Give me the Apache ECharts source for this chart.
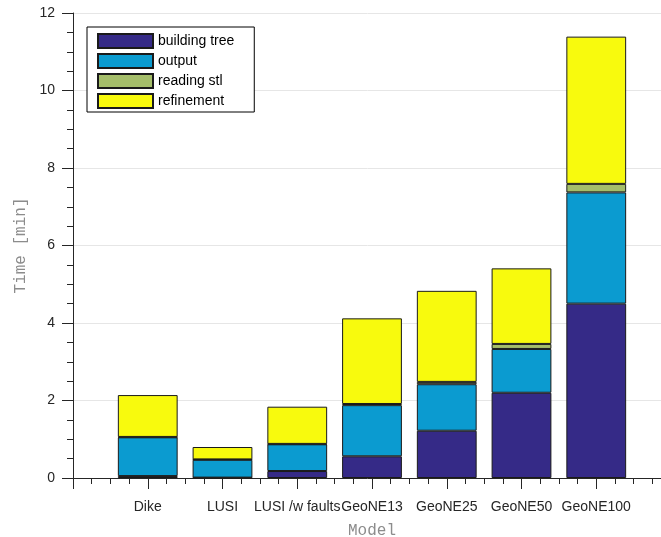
<!DOCTYPE html>
<html>
<head>
<meta charset="utf-8">
<script src="https://cdn.jsdelivr.net/npm/echarts@6/dist/echarts.min.js"></script>
<style>
  html, body { margin: 0; padding: 0; background: #fff; }
  #chart { width: 661px; height: 537px; }
</style>
</head>
<body>
<div id="chart"></div>
<script>
// Model names; the axis runs 0..8 and the models sit on positions 1..7
const models = ['Dike', 'LUSI', 'LUSI /w faults', 'GeoNE13', 'GeoNE25', 'GeoNE50', 'GeoNE100'];

// Time per stage in minutes
const buildingTree = [0.05, 0.01, 0.18, 0.56, 1.22, 2.20, 4.50];
const output       = [1.00, 0.46, 0.69, 1.32, 1.20, 1.13, 2.87];
const readingStl   = [0.01, 0.01, 0.01, 0.03, 0.06, 0.13, 0.22];
const refinement   = [1.08, 0.32, 0.96, 2.21, 2.35, 1.95, 3.80];

const yTicks = [0, 2, 4, 6, 8, 10, 12];

const seriesDefs = [
  { name: 'building tree', values: buildingTree, color: '#352a87' },
  { name: 'output',        values: output,       color: '#0b9bd0' },
  { name: 'reading stl',   values: readingStl,   color: '#a5be6a' },
  { name: 'refinement',    values: refinement,   color: '#f8fa0d' }
];

// Category slots: empty slot at each end so models land on 1..7 of a 0..8 span
const slots = [''].concat(models, ['']);

const W = 661;
const gridLeft = 73, gridRight = -10, gridTop = 13, gridBottom = 59;
const unitPx = (W - gridLeft - gridRight) / (slots.length - 1);
const barW = 0.8 * unitPx;

const chart = echarts.init(document.getElementById('chart'), null, { renderer: 'canvas' });

const axisColor = '#262626';
const labelFont = { fontFamily: 'Liberation Sans, Arial, sans-serif', fontSize: 14, color: axisColor };
const titleFont = { fontFamily: 'Liberation Mono, Courier New, monospace', fontSize: 16, color: '#8c8c8c' };

chart.setOption({
  animation: false,
  backgroundColor: '#ffffff',
  grid: {
    left: gridLeft, right: gridRight, top: gridTop, bottom: gridBottom,
    containLabel: false, outerBoundsMode: 'none'
  },
  legend: {
    orient: 'vertical',
    left: 87,
    top: 27,
    padding: [6, 20, 3, 10],
    itemGap: 4,
    itemWidth: 55,
    itemHeight: 14,
    icon: 'rect',
    borderColor: '#000',
    borderWidth: 1,
    backgroundColor: '#fff',
    textStyle: { fontFamily: 'Liberation Sans, Arial, sans-serif', fontSize: 14, color: '#000' },
    data: seriesDefs.map(s => s.name)
  },
  xAxis: [
    {
      // carries the bars and the model names
      type: 'category',
      data: slots,
      boundaryGap: false,
      name: 'Model',
      nameLocation: 'middle',
      nameGap: 45,
      nameTextStyle: titleFont,
      axisLine: { show: true, lineStyle: { color: axisColor, width: 1 } },
      axisTick: { show: false },
      splitLine: { show: false },
      axisLabel: { ...labelFont, margin: 22, interval: 0 }
    },
    {
      // tick marks along the same line, major at each slot and four minor steps
      type: 'value',
      position: 'bottom',
      min: 0,
      max: slots.length - 1,
      interval: 1,
      axisLine: { show: false },
      axisTick: { show: true, inside: false, length: 11, lineStyle: { color: axisColor } },
      minorTick: { show: true, splitNumber: 4, length: 6, lineStyle: { color: axisColor } },
      splitLine: { show: false },
      axisLabel: { show: false }
    }
  ],
  yAxis: {
    type: 'value',
    min: yTicks[0],
    max: yTicks[yTicks.length - 1],
    interval: yTicks[1] - yTicks[0],
    name: 'Time [min]',
    nameLocation: 'middle',
    nameGap: 44,
    nameTextStyle: titleFont,
    axisLine: { show: true, lineStyle: { color: axisColor, width: 1 } },
    axisTick: { show: true, inside: false, length: 11, lineStyle: { color: axisColor } },
    minorTick: { show: true, splitNumber: 4, length: 6, lineStyle: { color: axisColor } },
    splitLine: { show: true, lineStyle: { color: '#e6e6e6', width: 1 } },
    axisLabel: { ...labelFont, margin: 18 }
  },
  series: seriesDefs.map(s => ({
    name: s.name,
    type: 'bar',
    stack: 'time',
    xAxisIndex: 0,
    barWidth: barW,
    itemStyle: { color: s.color, borderColor: '#1a1a1a', borderWidth: 1 },
    data: [null].concat(s.values, [null])
  }))
});
</script>
</body>
</html>
